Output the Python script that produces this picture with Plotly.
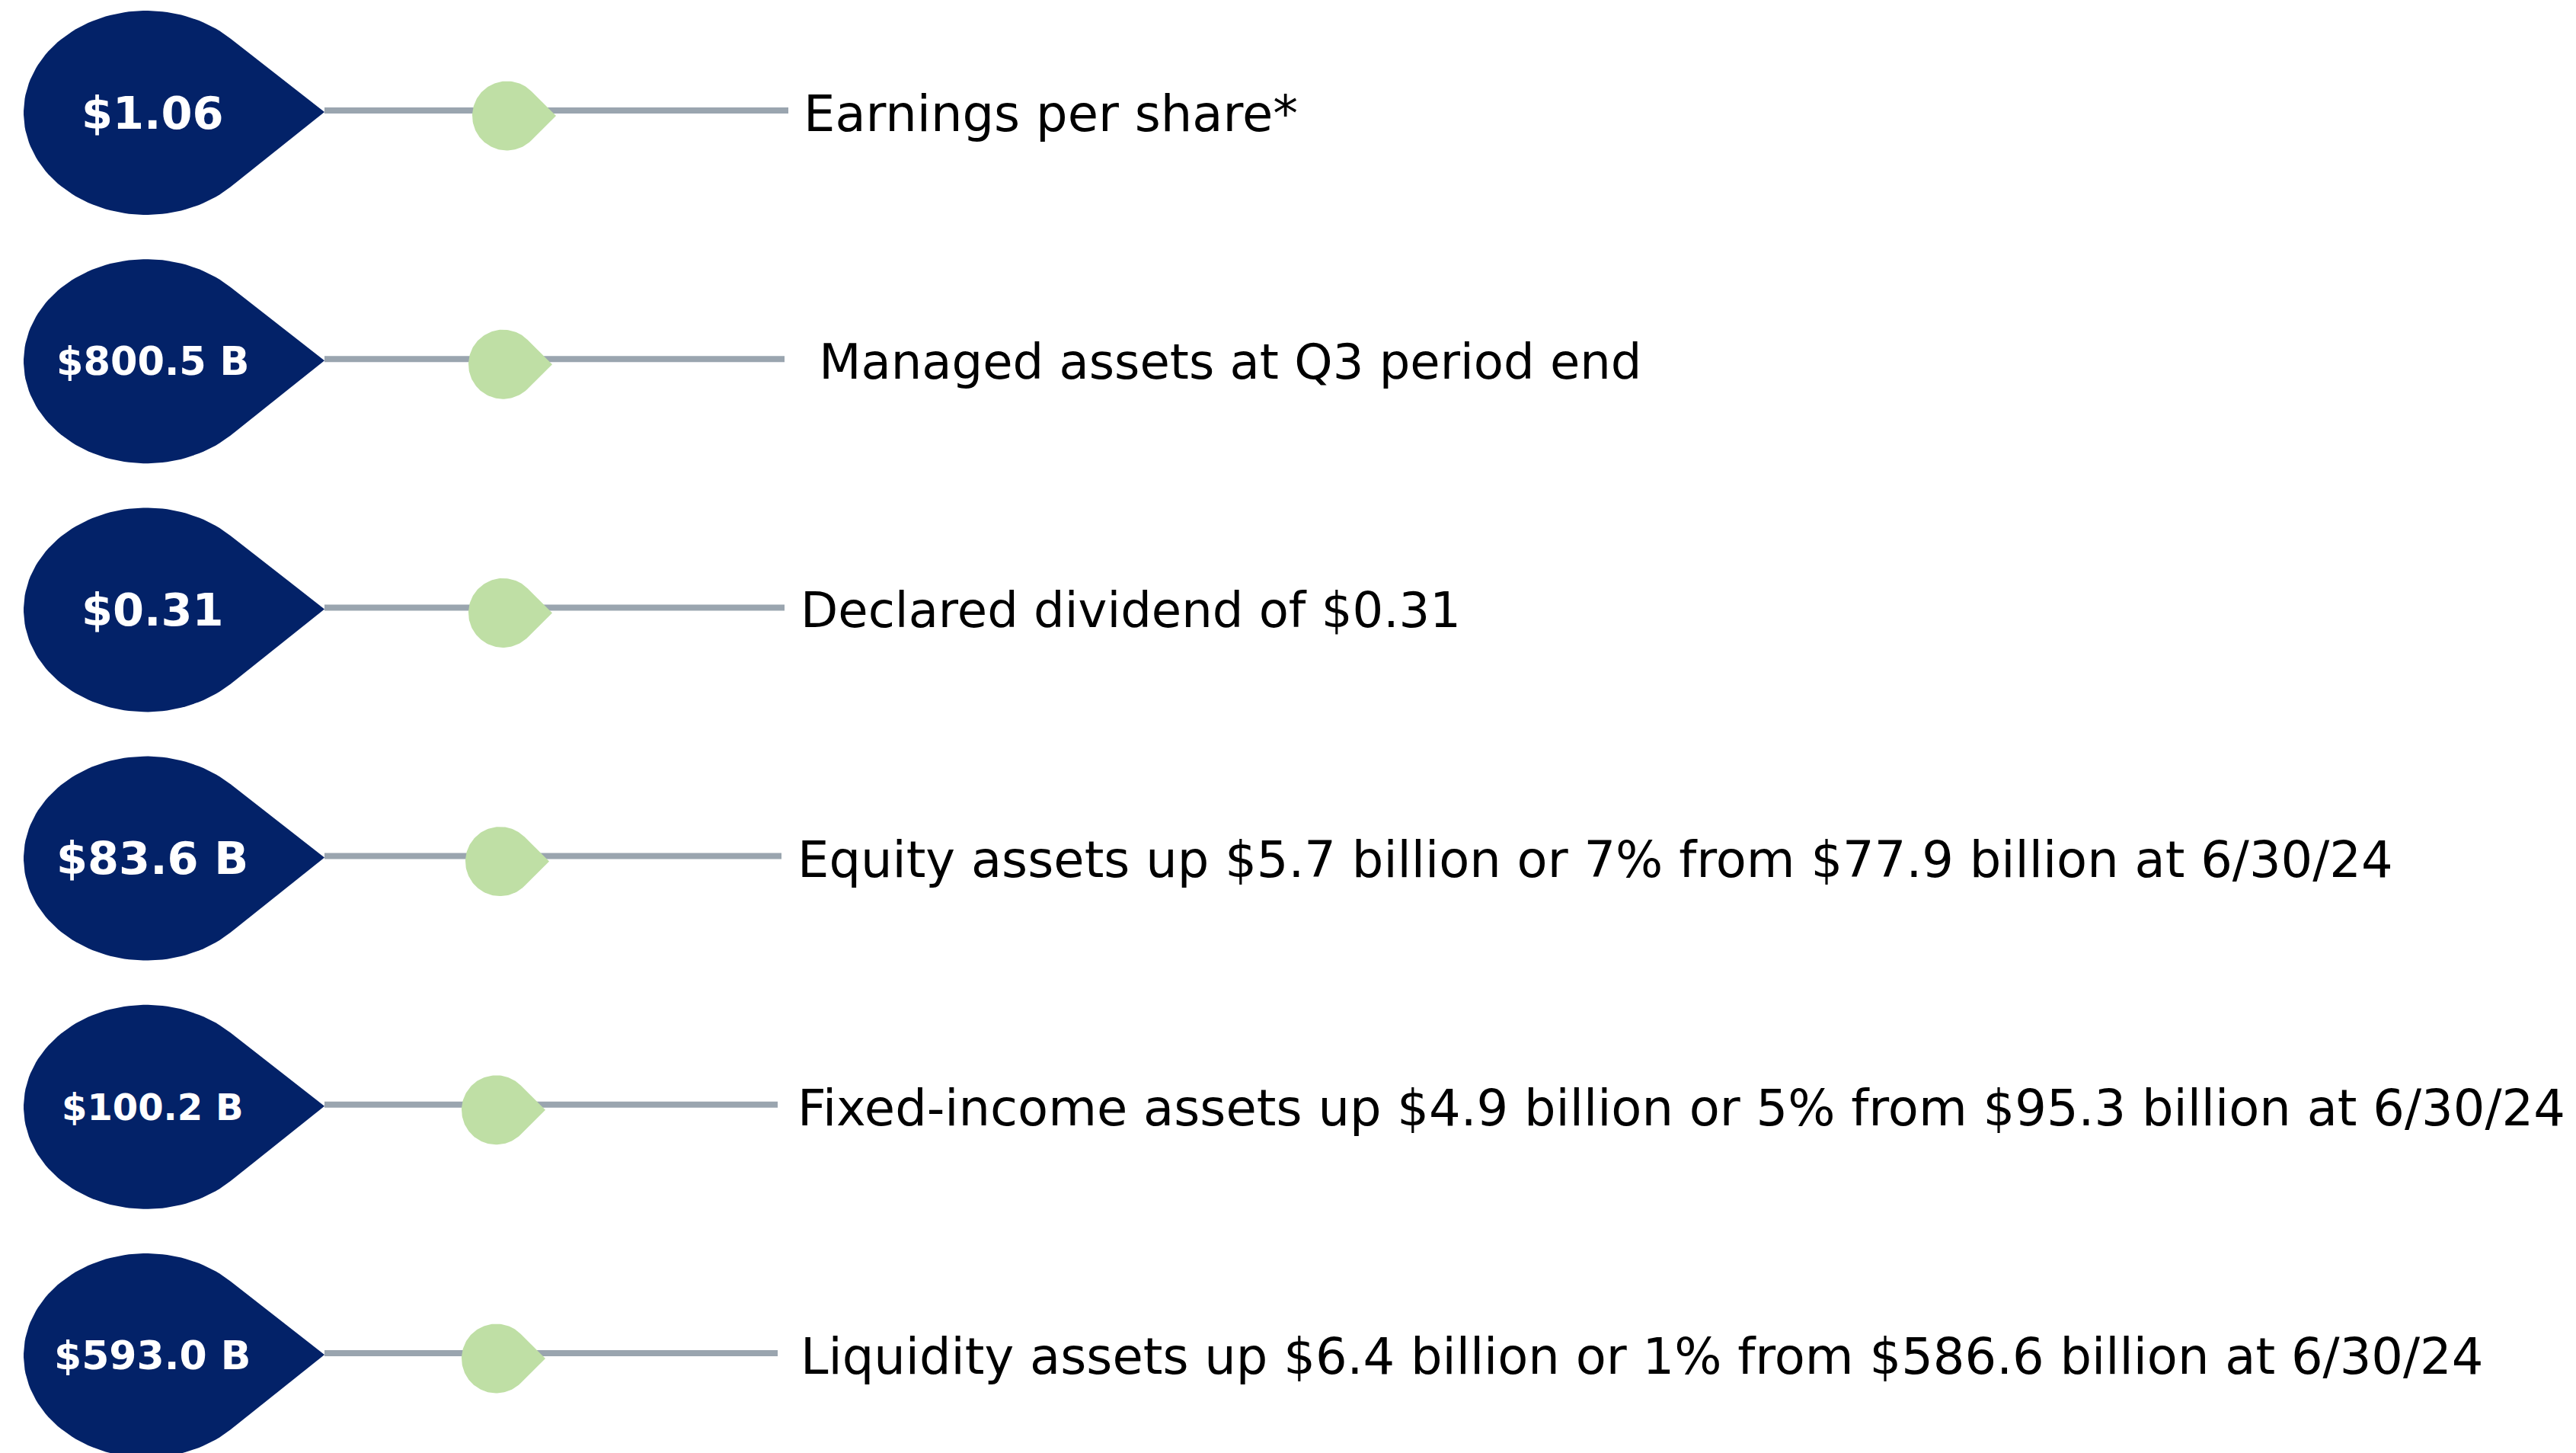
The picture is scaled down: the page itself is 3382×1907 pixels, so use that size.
import numpy as np
import plotly.graph_objects as go


# ==========================================
# Data
# ==========================================

values = ["$1.06", "$800.5 B", "$0.31", "$83.6 B", "$100.2 B", "$593.0 B"]

descriptions = [
    "Earnings per share*",
    " Managed assets at Q3 period end",
    "Declared dividend of $0.31",
    "Equity assets up $5.7 billion or 7% from $77.9 billion at 6/30/24",
    "Fixed-income assets up $4.9 billion or 5% from $95.3 billion at 6/30/24",
    "Liquidity assets up $6.4 billion or 1% from $586.6 billion at 6/30/24",
]


# ==========================================
# Layout settings
# ==========================================

W, H = 3382, 1907
PAD = 8  # page body margin in the html output
NAVY = "#032268"
GREEN = "#bfdfa5"
GREY = "#9aa5af"
FONT = "DejaVu Sans"

row_y0, row_step = 145, 326.2
row_shift = [0, -5, -5, -9, -14, -14]
text_x = [1053, 1053, 1049, 1045, 1045, 1049]
text_size = [65.5, 64, 64, 65.5, 65.5, 65.5]
value_size = [59, 51, 59, 59, 48, 52]


def drop(cx, cy, rx, ry, tx, ty, n=120):
    # ellipse body with a pointed tip on the right
    u = (tx - cx) / rx
    a = np.arccos(1 / u)
    t = np.linspace(a, 2 * np.pi - a, n)
    xs = list(cx + rx * np.cos(t)) + [tx]
    ys = list(cy - ry * np.sin(t)) + [ty]
    return xs + [xs[0]], ys + [ys[0]]


fig = go.Figure()
annotations = []

for i, (val, desc) in enumerate(zip(values, descriptions)):
    y = row_y0 + row_step * i
    s = row_shift[i]

    # connector line
    fig.add_trace(go.Scatter(
        x=[426, 1035 + s], y=[y, y], mode="lines",
        line=dict(color=GREY, width=8), hoverinfo="skip"
    ))

    # small green drop
    gx, gy = drop(665.5 + s, y + 7, 45.5, 45.5, 730 + s, y + 7)
    fig.add_trace(go.Scatter(
        x=gx, y=gy, mode="lines", fill="toself", fillcolor=GREEN,
        line=dict(width=0, color=GREEN), hoverinfo="skip"
    ))

    # navy drop
    nx, ny = drop(192, y + 3, 161, 134, 426, y + 2)
    fig.add_trace(go.Scatter(
        x=nx, y=ny, mode="lines", fill="toself", fillcolor=NAVY,
        line=dict(width=0, color=NAVY), hoverinfo="skip"
    ))

    annotations.append(dict(
        x=200, y=y + 3, text=f"<b>{val}</b>", showarrow=False,
        xanchor="center", yanchor="middle",
        font=dict(family=FONT, size=value_size[i], color="white")
    ))
    annotations.append(dict(
        x=text_x[i], y=y + 4, text=desc, showarrow=False,
        xanchor="left", yanchor="middle",
        font=dict(family=FONT, size=text_size[i], color="black")
    ))

fig.update_layout(
    width=W, height=H,
    margin=dict(l=0, r=0, t=0, b=0),
    plot_bgcolor="white", paper_bgcolor="white",
    showlegend=False,
    xaxis=dict(range=[PAD, W + PAD], visible=False, fixedrange=True),
    yaxis=dict(range=[H + PAD, PAD], visible=False, fixedrange=True),
    annotations=annotations,
)

fig.write_html("out.html")
